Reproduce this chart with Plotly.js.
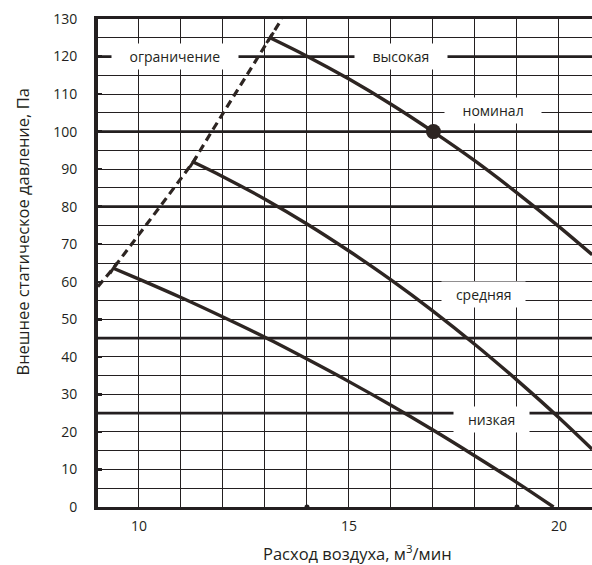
<!DOCTYPE html>
<html>
<head>
<meta charset="utf-8">
<script src="https://cdn.plot.ly/plotly-3.0.1.min.js"></script>
<style>html,body{margin:0;padding:0;background:#fff}#chart{width:592px;height:565px}</style>
</head>
<body>
<div id="chart"></div>
<script>
// ---- data ----
const limitX = [9.02, 9.39, 10.5, 11.29, 11.73, 12.86, 13.12, 13.40];
const limitY = [58.7, 63.6, 80.0, 91.9, 100.0, 120.0, 125.0, 130.0];

const highX = [13.12, 14, 15, 16, 17, 18, 19, 20, 20.79];
const highY = [125.0, 120.1, 114.0, 107.3, 100.0, 92.2, 83.7, 74.7, 67.2];

const midX = [11.29, 12, 13, 14, 15, 16, 17, 18, 19, 20, 20.79];
const midY = [91.9, 88.0, 82.0, 75.4, 68.2, 60.5, 52.2, 43.3, 33.8, 23.8, 15.4];

const lowX = [9.39, 10, 11, 12, 13, 14, 15, 16, 17, 18, 19, 19.87];
const lowY = [63.6, 60.7, 55.8, 50.6, 45.2, 39.4, 33.4, 27.1, 20.5, 13.6, 6.5, 0.0];

const nominalX = [17.01];
const nominalY = [100];

const thickLevels = [25, 45, 80, 100, 120];
const xAxisDots = [14, 19];

const labelTexts = ['ограничение', 'высокая', 'номинал', 'средняя', 'низкая'];
const labelX = [10.86, 16.23, 18.43, 18.21, 18.40];
const labelY = [120, 120, 105.6, 56.6, 23.4];
const labelPad = [4, 4, 4, 3, 3];

const xTickVals = [10, 15, 20];
const yTickVals = [0,10,20,30,40,50,60,70,80,90,100,110,120,130];

const xTitle = 'Расход воздуха, м<sup>3</sup>/мин';
const yTitle = 'Внешнее статическое давление, Па';

// ---- styling ----
const ink = '#231f20';
const curve = '#2d2522';
const FONT = '"Open Sans", "Noto Sans", sans-serif';
const nb = n => '\u00a0'.repeat(n);

const traces = [
  {x: limitX, y: limitY, mode: 'lines', line: {color: curve, width: 3.2, dash: '8px,5px'}, hoverinfo: 'skip'},
  {x: highX, y: highY, mode: 'lines', line: {color: curve, width: 3.4, shape: 'spline', smoothing: 1}, hoverinfo: 'skip'},
  {x: midX, y: midY, mode: 'lines', line: {color: curve, width: 3.4, shape: 'spline', smoothing: 1}, hoverinfo: 'skip'},
  {x: lowX, y: lowY, mode: 'lines', line: {color: curve, width: 3.4, shape: 'spline', smoothing: 1}, hoverinfo: 'skip'},
  {x: [lowX[0], midX[0], highX[0]], y: [lowY[0], midY[0], highY[0]], mode: 'markers',
   marker: {symbol: 'line-ns', size: 9, angle: 33, line: {color: curve, width: 3}}, hoverinfo: 'skip'},
  {x: nominalX, y: nominalY, mode: 'markers', marker: {symbol: 'circle', size: 15, color: curve}, hoverinfo: 'skip'},
  {x: xAxisDots, y: xAxisDots.map(() => 0), mode: 'markers', cliponaxis: false,
   marker: {symbol: 'circle', size: 5, color: ink}, hoverinfo: 'skip'}
];

const shapes = thickLevels.map(v => ({
  type: 'line', xref: 'paper', x0: 0, x1: 1, yref: 'y', y0: v, y1: v,
  line: {color: ink, width: 2.8}, layer: 'below'
}));

const annotations = labelTexts.map((t, i) => ({
  x: labelX[i], y: labelY[i], xref: 'x', yref: 'y', showarrow: false,
  text: nb(labelPad[i]) + t + nb(labelPad[i]), bgcolor: '#ffffff', borderpad: 3,
  font: {family: FONT, size: 14, color: ink}, xanchor: 'center', yanchor: 'middle'
}));

// axis titles placed as in the reference (x title right of centre, y title above centre)
annotations.push({
  text: xTitle, xref: 'paper', yref: 'paper', x: (357 - 98) / 494, y: (507 - 553) / 488,
  xanchor: 'center', yanchor: 'middle', showarrow: false,
  font: {family: FONT, size: 16.5, color: ink}
});
annotations.push({
  text: yTitle, xref: 'paper', yref: 'paper', x: (21.5 - 98) / 494, y: (507 - 232) / 488,
  xanchor: 'center', yanchor: 'middle', textangle: -90, showarrow: false,
  font: {family: FONT, size: 16.5, color: ink}
});

const layout = {
  width: 592, height: 565,
  margin: {l: 98, r: 0, t: 19, b: 58, pad: 0},
  paper_bgcolor: '#ffffff', plot_bgcolor: '#ffffff',
  showlegend: false,
  font: {family: FONT, size: 14, color: ink},
  xaxis: {
    range: [9.024, 20.786], tickvals: xTickVals, ticktext: xTickVals.map(String),
    showgrid: true, gridcolor: ink, gridwidth: 1,
    minor: {dtick: 1, tick0: 0, showgrid: true, gridcolor: ink, gridwidth: 1, ticks: ''},
    showline: true, linecolor: ink, linewidth: 3, mirror: true,
    ticks: '', zeroline: false, ticklabelstandoff: 4,
    tickfont: {family: FONT, size: 14, color: ink}
  },
  yaxis: {
    range: [0, 130], tickvals: yTickVals, ticktext: yTickVals.map(String),
    showgrid: true, gridcolor: ink, gridwidth: 1,
    minor: {dtick: 5, tick0: 0, showgrid: true, gridcolor: ink, gridwidth: 1, ticks: ''},
    showline: true, linecolor: ink, linewidth: 4, mirror: false,
    ticks: 'inside', ticklen: 4, tickwidth: 2.5, tickcolor: ink,
    zeroline: false, ticklabelstandoff: 14,
    tickfont: {family: FONT, size: 14, color: ink}
  },
  shapes: shapes,
  annotations: annotations
};

Plotly.newPlot('chart', traces, layout, {displayModeBar: false, staticPlot: true});
</script>
</body>
</html>
